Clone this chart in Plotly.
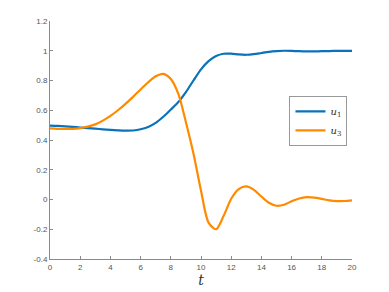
import plotly.graph_objects as go

t = [i * 0.5 for i in range(41)]
u1 = [0.497, 0.495, 0.492, 0.488, 0.484, 0.480, 0.476, 0.472, 0.468, 0.465,
      0.463, 0.464, 0.472, 0.488, 0.515, 0.556, 0.605, 0.655, 0.722, 0.800,
      0.875, 0.930, 0.965, 0.980, 0.980, 0.975, 0.973, 0.977, 0.985, 0.993,
      0.998, 1.000, 0.999, 0.997, 0.996, 0.996, 0.997, 0.998, 0.999, 0.999, 0.999]
u3 = [0.478, 0.475, 0.474, 0.475, 0.480, 0.490, 0.505, 0.530, 0.562, 0.600,
      0.643, 0.690, 0.740, 0.788, 0.828, 0.845, 0.810, 0.710, 0.520, 0.310,
      0.060, -0.155, -0.200, -0.110, 0.005, 0.070, 0.088, 0.065, 0.020, -0.022,
      -0.042, -0.035, -0.012, 0.007, 0.016, 0.013, 0.004, -0.006, -0.011, -0.010, -0.006]

x_ticks = [0, 2, 4, 6, 8, 10, 12, 14, 16, 18, 20]
y_ticks = [-0.4, -0.2, 0, 0.2, 0.4, 0.6, 0.8, 1, 1.2]
y_labels = ["-0.4", "-0.2", "0", "0.2", "0.4", "0.6", "0.8", "1", "1.2"]

fig = go.Figure()
fig.add_trace(go.Scatter(x=t, y=u1, mode="lines", name="<i>u</i><sub>1</sub>",
                         line=dict(color="#0a72ba", width=2.2, shape="spline", smoothing=0.8)))
fig.add_trace(go.Scatter(x=t, y=u3, mode="lines", name="<i>u</i><sub>3</sub>",
                         line=dict(color="#ff8a00", width=2.2, shape="spline", smoothing=0.8)))

axis_common = dict(showline=True, linecolor="#8a8a8a", linewidth=1, ticks="inside",
                   ticklen=3, tickcolor="#8a8a8a", showgrid=False, zeroline=False,
                   tickfont=dict(family="Liberation Sans, Arial", size=8, color="#555555"),
                   mirror=False, automargin=False)

fig.update_layout(
    width=381, height=284,
    margin=dict(l=42, r=37, t=13, b=33),
    paper_bgcolor="white", plot_bgcolor="white",
    xaxis=dict(range=[0, 20], tickvals=x_ticks,
               title=dict(text="<i>t</i>", font=dict(family="DejaVu Serif", size=14, color="#333333"),
                          standoff=0),
               **axis_common),
    yaxis=dict(range=[-0.4, 1.2], tickvals=y_ticks, ticktext=y_labels, **axis_common),
    legend=dict(x=0.985, y=0.58, xanchor="right", yanchor="middle",
                bordercolor="#999999", borderwidth=1, bgcolor="white",
                font=dict(family="DejaVu Serif", size=10, color="#333333"),
                itemwidth=30, tracegroupgap=0),
    showlegend=True,
)

fig.write_html("out.html")
